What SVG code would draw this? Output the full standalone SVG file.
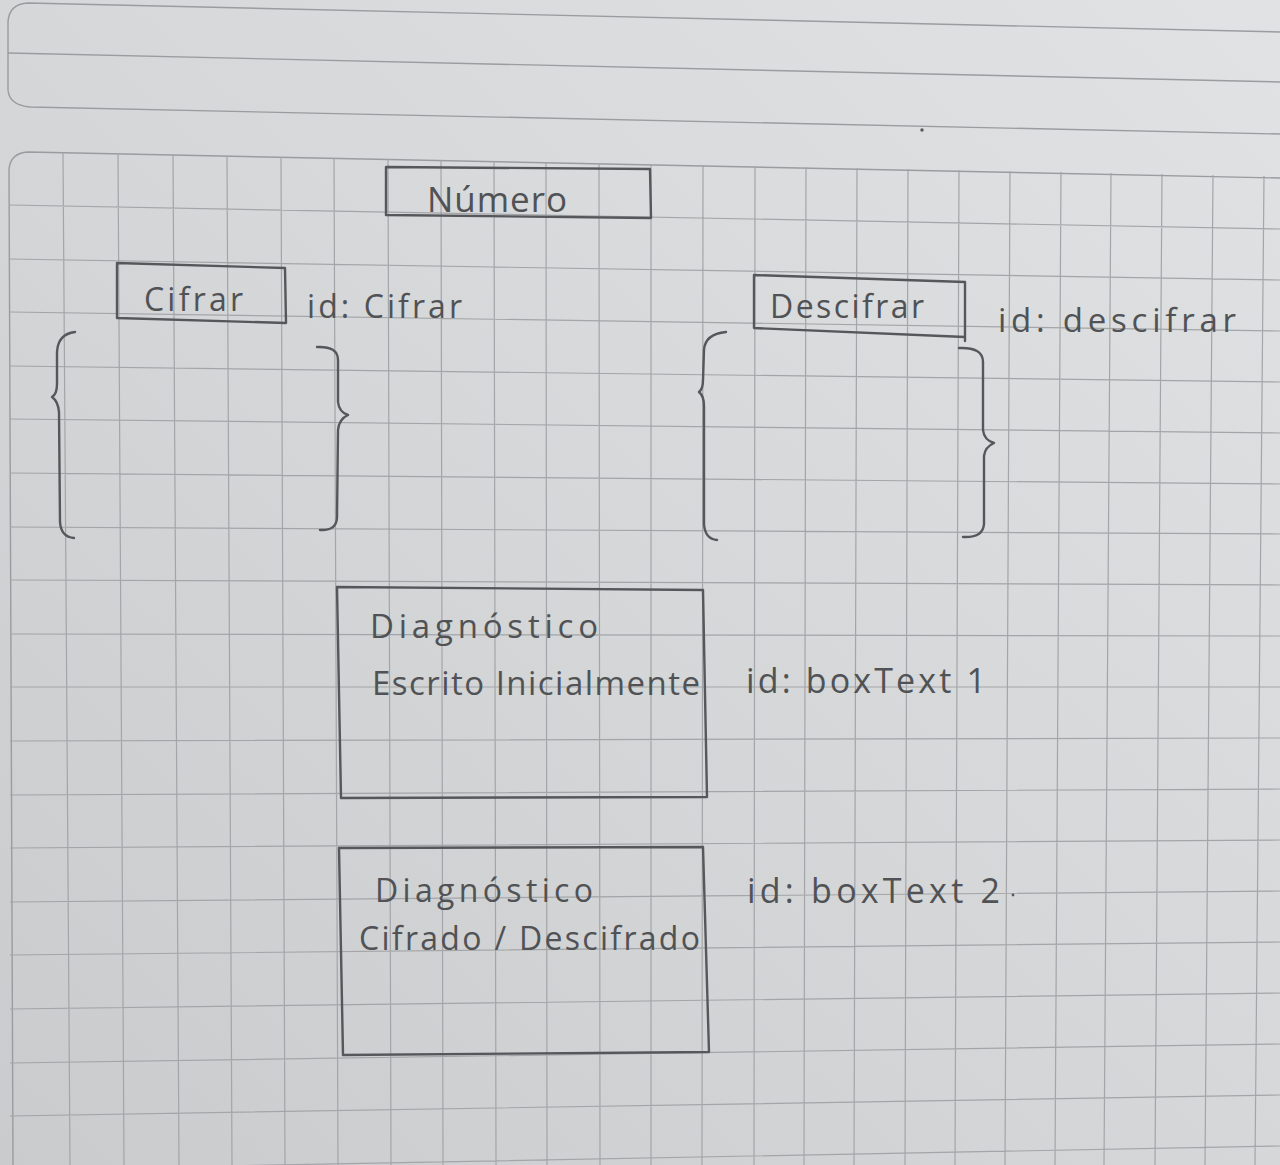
<svg xmlns="http://www.w3.org/2000/svg" width="1280" height="1165" viewBox="0 0 1280 1165">
  <defs>
    <linearGradient id="paper" x1="1" y1="0" x2="0" y2="1">
      <stop offset="0" stop-color="#e0e2e3"/>
      <stop offset="0.5" stop-color="#d5d7d8"/>
      <stop offset="1" stop-color="#c9cbcc"/>
    </linearGradient>
    <style>
      .grid { fill: none; stroke: #a3a5a8; stroke-width: 1.2; }
      .edge { fill: none; stroke: #9a9c9f; stroke-width: 1.4; }
      .pencil { fill: none; stroke: #55575a; stroke-width: 2.4; stroke-linejoin: round; stroke-linecap: round; }
      .hand { font-family: 'Open Sans', 'Noto Sans', 'DejaVu Sans', sans-serif; font-weight: 400; fill: #505255; }
    </style>
  </defs>

  <!-- paper -->
  <rect x="0" y="0" width="1280" height="1165" fill="url(#paper)"/>

  <!-- upper ruled strip -->
  <g id="upper-strip">
    <path class="edge" d="M 1280 32 L 28 3 Q 9 4 8 22 L 8 90 Q 9 105 30 107 L 1280 134"/>
    <path class="edge" d="M 8 53 L 1280 82"/>
    <circle cx="922" cy="130" r="1.7" fill="#55575a"/>
  </g>

  <!-- squared paper card -->
  <g id="grid-card">
    <path class="edge" d="M 1280 178 L 28 152 Q 10 153 9 170 L 13 1165"/>
    <path class="grid" d="
      M 63 153 L 70 1165 M 118 154 L 124 1165 M 173 155 L 179 1165 M 227 156 L 232 1165
      M 281 157 L 285 1165 M 334 158 L 338 1165 M 388 159 L 391 1165 M 441 160 L 443 1165
      M 494 161 L 496 1165 M 546 162 L 547 1165 M 599 163 L 600 1165 M 651 164 L 651 1165
      M 703 165 L 702 1165 M 755 166 L 754 1165 M 806 167 L 804 1165 M 857 168 L 854 1165
      M 908 169 L 905 1165 M 959 170 L 955 1165 M 1010 171 L 1005 1165 M 1061 172 L 1055 1165
      M 1111 173 L 1104 1165 M 1162 174 L 1155 1165 M 1213 175 L 1205 1165 M 1264 176 L 1255 1165
      M 10 205 L 1280 229 M 10 259 L 1280 280 M 10 312 L 1280 331 M 10 366 L 1280 382
      M 10 419 L 1280 433 M 10 473 L 1280 484 M 10 527 L 1280 534 M 10 580 L 1280 585
      M 10 634 L 1280 636 M 10 687 L 1280 687 M 10 741 L 1280 738 M 10 795 L 1280 789
      M 10 848 L 1280 840 M 10 902 L 1280 891 M 10 955 L 1280 942 M 10 1009 L 1280 993
      M 10 1063 L 1280 1044 M 10 1116 L 1280 1095 M 10 1170 L 1280 1146"/>
  </g>

  <g id="numero">
    <path class="pencil" d="M 386 167 L 650 169 L 651 218 L 386 215 Z"/>
    <text class="hand" x="427" y="212" font-size="35" textLength="140">Número</text>
  </g>

  <g id="cifrar">
    <path class="pencil" d="M 117 263 L 285 268 L 286 323 L 117 318 Z"/>
    <text class="hand" x="144" y="311" font-size="32" textLength="99">Cifrar</text>
    <text class="hand" x="307" y="318" font-size="32" textLength="155">id: Cifrar</text>
  </g>

  <g id="cifrar-braces">
    <path class="pencil" d="M 75 332 Q 58 334 57 352 L 57 384 Q 57 394 52 397 Q 58 401 59 412 L 60 522 Q 61 537 74 538"/>
    <path class="pencil" d="M 317 347 Q 338 346 338 360 L 338 402 Q 339 412 348 415 Q 339 419 338 430 L 337 518 Q 336 531 320 530"/>
  </g>

  <g id="descifrar">
    <path class="pencil" d="M 754 275 L 965 282 L 965 337 L 754 328 Z M 965 337 L 965 341"/>
    <text class="hand" x="770" y="318" font-size="32" textLength="154">Descifrar</text>
    <text class="hand" x="998" y="332" font-size="33" textLength="238">id: descifrar</text>
  </g>

  <g id="descifrar-braces">
    <path class="pencil" d="M 726 332 Q 705 334 704 350 L 703 380 Q 703 389 699 392 Q 704 396 704 406 L 704 524 Q 705 539 717 540"/>
    <path class="pencil" d="M 959 348 Q 983 347 983 362 L 983 430 Q 984 440 994 443 Q 985 447 984 456 L 984 524 Q 983 538 963 537"/>
  </g>

  <g id="boxText1">
    <path class="pencil" d="M 337 587 L 703 590 L 707 797 L 341 798 Z"/>
    <text class="hand" x="370" y="638" font-size="33" textLength="228">Diagnóstico</text>
    <text class="hand" x="372" y="695" font-size="33" textLength="328">Escrito Inicialmente</text>
    <text class="hand" x="746" y="693" font-size="34" textLength="240">id: boxText 1</text>
  </g>

  <g id="boxText2">
    <path class="pencil" d="M 339 848 L 703 847 L 709 1052 L 343 1055 Z"/>
    <text class="hand" x="375" y="902" font-size="32" textLength="218">Diagnóstico</text>
    <text class="hand" x="359" y="950" font-size="32" textLength="341">Cifrado / Descifrado</text>
    <text class="hand" x="747" y="903" font-size="34" textLength="253">id: boxText 2</text>
    <circle cx="1013" cy="895" r="1.4" fill="#55575a"/>
  </g>
</svg>
